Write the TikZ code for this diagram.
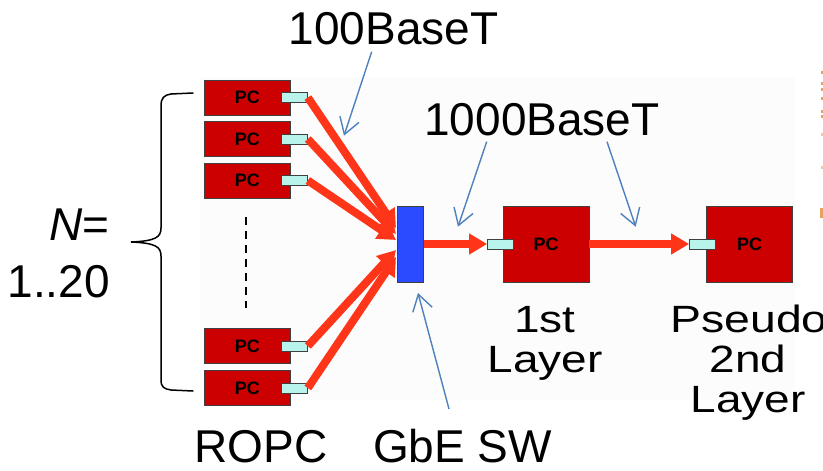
\documentclass[tikz,border=0pt]{standalone}
\usepackage{fontspec}
\setmainfont{Liberation Sans}
\usetikzlibrary{arrows.meta}
\definecolor{pcred}{HTML}{CC0000}
\definecolor{linkred}{HTML}{FF3519}
\definecolor{portcyan}{HTML}{B9F4EC}
\definecolor{swblue}{HTML}{2A4BFF}
\definecolor{noteblue}{HTML}{4F81BD}
\definecolor{edgegray}{HTML}{404040}
\definecolor{cutorange}{HTML}{E2A264}

\begin{document}
\begin{tikzpicture}[x=1pt,y=-1pt,
  pcbox/.style={draw=edgegray, fill=pcred, line width=0.8pt, inner sep=0pt,
    font=\bfseries\fontsize{18}{18}\selectfont},
  smallpc/.style={pcbox, minimum width=86.5pt, minimum height=35pt},
  bigpc/.style={pcbox, minimum width=86pt, minimum height=76pt},
  port/.style={draw=edgegray, fill=portcyan, line width=0.8pt, inner sep=0pt,
    minimum width=26pt, minimum height=10pt},
  switchbox/.style={draw=edgegray, fill=swblue, line width=0.8pt, inner sep=0pt,
    minimum width=25.6pt, minimum height=76pt},
  fanlink/.style={draw=linkred, line width=8pt,
    -{Triangle[length=18pt,width=20pt]}},
  uplink/.style={draw=linkred, line width=8pt,
    -{Triangle[length=18pt,width=20pt]}},
  note/.style={draw=noteblue, line width=1.4pt,
    -{Straight Barb[length=16pt,width=20pt,line width=1.4pt]}},
  bigtext/.style={font=\fontsize{46}{48}\selectfont, inner sep=0pt},
  layertext/.style={font=\fontsize{38}{40}\selectfont, inner sep=0pt, anchor=base},
]
\useasboundingbox (0,0) rectangle (823,471);

% faint slide panel behind the network
\fill[black!1.2] (200,77) rectangle (795,400);

% clipped fragments of text beyond the right edge
\begin{scope}
  \clip (0,0) rectangle (823,471);
  \foreach \yy in {72,83,89,98,111,116} {
    \fill[cutorange] (820.5,\yy-1.5) rectangle (823,\yy+1.5);
  }
  \fill[cutorange!60] (820.5,133) rectangle (823,136);
  \fill[cutorange!60] (820.5,166) rectangle (823,169);
  \fill[cutorange] (820,208) rectangle (823,218);
\end{scope}

% readout PCs
\node[smallpc] (pc1) at (247.3,97.5)  {PC};
\node[smallpc] (pc2) at (247.3,139)   {PC};
\node[smallpc] (pc3) at (247.3,180.5) {PC};
\node[smallpc] (pc4) at (247.3,346)   {PC};
\node[smallpc] (pc5) at (247.3,388)   {PC};
\foreach \i in {1,...,5} {
  \node[port] (p\i) at (pc\i.east) [xshift=3.5pt] {};
}

% elided PCs
\coordinate (dtop) at (245.7,217);
\coordinate (dbot) at (245.7,308);
\draw[line width=2pt, dash pattern=on 8pt off 6pt] (dtop) -- (dbot);

% GbE switch
\node[switchbox] (sw) at (410.5,244) {};

% first and pseudo second layer PCs
\node[bigpc] (l1) at (546,244) {PC};
\node[port] (q1) at (500.5,244) {};
\node[bigpc] (l2) at (749.7,244) {PC};
\node[port] (q2) at (702.5,244) {};

% 100BaseT links into the switch
\coordinate (t1) at (396,228);
\coordinate (t2) at (396,234);
\coordinate (t3) at (396,240);
\coordinate (t4) at (396,250);
\coordinate (t5) at (396,257);
\foreach \i in {1,...,5} {
  \draw[fanlink] (p\i.east) -- (t\i);
}

% 1000BaseT links
\draw[uplink] (sw.east) -- (q1.west);
\draw[uplink] (l1.east) -- (q2.west);

% curly brace grouping the readout PCs
\draw[line width=1.5pt, line cap=round]
  (193,93) -- (171,94) .. controls (164,95) and (161,98) .. (161,106)
  -- (161,228) .. controls (161,237) and (156,241) .. (131,242)
  .. controls (156,243) and (161,247) .. (161,256)
  -- (161,380) .. controls (161,387) and (164,389) .. (171,390) -- (193,391);

% labels
\node[bigtext, anchor=base east] (nlab) at (110,240) {\textit{N}=};
\node[bigtext, anchor=base east] (rlab) at (110,297) {1..20};
\node[bigtext, anchor=base] (b100) at (393.5,45) {100BaseT};
\node[bigtext, anchor=base] (b1000) at (542,135) {1000BaseT};
\node[bigtext, anchor=base] (ropc) at (261,462) {ROPC};
\node[bigtext, anchor=base] (gbe) at (462.5,462) {GbE SW};

\node[layertext] (l1a) at (545,332) {\scalebox{1.21}[1]{1st}};
\node[layertext] (l1b) at (545,372) {\scalebox{1.21}[1]{Layer}};
\begin{scope}
  \clip (0,0) rectangle (823,471);
  \node[layertext] (l2a) at (749,332) {\scalebox{1.22}[1]{Pseudo}};
\end{scope}
\node[layertext] (l2b) at (748,372) {\scalebox{1.21}[1]{2nd}};
\node[layertext] (l2c) at (748,412) {\scalebox{1.21}[1]{Layer}};

% annotation arrows
\coordinate (a100s) at (371.7,51.7);
\coordinate (a100e) at (344,135.7);
\coordinate (a1ks) at (486.7,141.7);
\coordinate (a1ke) at (458,226.7);
\coordinate (a2ks) at (607,141.7);
\coordinate (a2ke) at (635.7,226.7);
\coordinate (agbs) at (449,409);
\coordinate (agbe) at (418,293);
\draw[note] (a100s) -- (a100e);
\draw[note] (a1ks) -- (a1ke);
\draw[note] (a2ks) -- (a2ke);
\draw[note] (agbs) -- (agbe);
\end{tikzpicture}
\end{document}
